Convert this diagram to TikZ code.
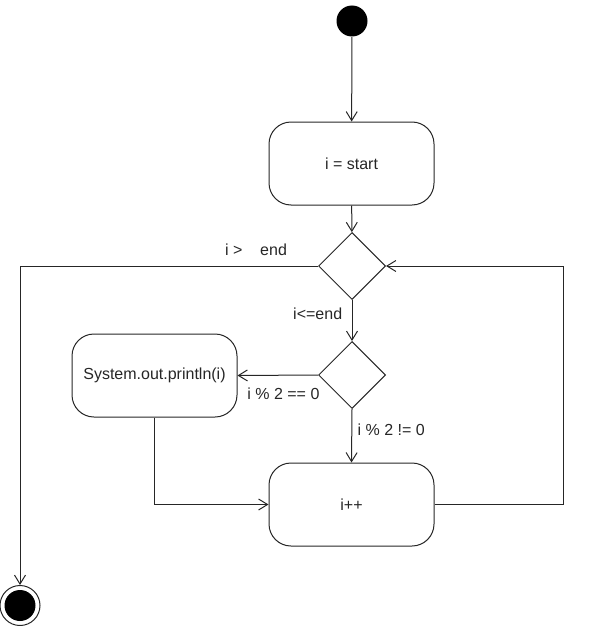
\documentclass[tikz,border=0pt]{standalone}
\usepackage{fontspec}
\setmainfont{Liberation Sans}
\usetikzlibrary{shapes.geometric,arrows.meta}

\begin{document}
\begin{tikzpicture}[x=1pt, y=-1pt,
		line width=1pt, draw=black!85,
		every node/.style={font=\fontsize{16}{19}\selectfont, text=black!85},
		arr/.style={-{Straight Barb[length=9pt,width=11pt]}},
		action/.style={draw, rectangle, rounded corners=22pt, minimum width=165pt, minimum height=83pt},
		choice/.style={draw, diamond, aspect=1, minimum size=67pt, inner sep=0pt}]
		\useasboundingbox (0,0) rectangle (610,626);

		\node[circle, fill=black, minimum size=31pt, inner sep=0pt] (start) at (352, 21) {};
		\node[action] (init) at (351.5, 163.5) {i = start};
		\node[choice] (cond) at (352, 266) {};
		\node[choice] (even) at (352, 375) {};
		\node[action] (print) at (154.5, 375.5) {System.out.println(i)};
		\node[action] (inc) at (351.5, 504.5) {i++};
		\node[circle, draw, minimum size=40pt, inner sep=0pt] (stop) at (20, 605.5) {};
		\fill[black] (stop.center) circle (15.5);
		\coordinate (back) at (563, 504.5);

		\draw[arr] (start) -- (init);
		\draw[arr] (init) -- (cond);
		\draw[arr] (cond.west) -| (stop.north) node[pos=0.104, above=7pt] {i >\ \ \ \ end};
		\draw[arr] (cond.south) -- (even.north) node[pos=0.33, left=6pt] {i<=end};
		\draw[arr] (even.west) -- (print.east) node[pos=0.43, below=9pt] {i \% 2 == 0};
		\draw[arr] (even.south) -- (inc.north) node[pos=0.38, right=2pt] {i \% 2 != 0};
		\draw[arr] (print.south) |- (inc.west);

		% 戻りの線
		\draw[arr] (inc.east) -- (back) |- (cond.east);
	\end{tikzpicture}
\end{document}
